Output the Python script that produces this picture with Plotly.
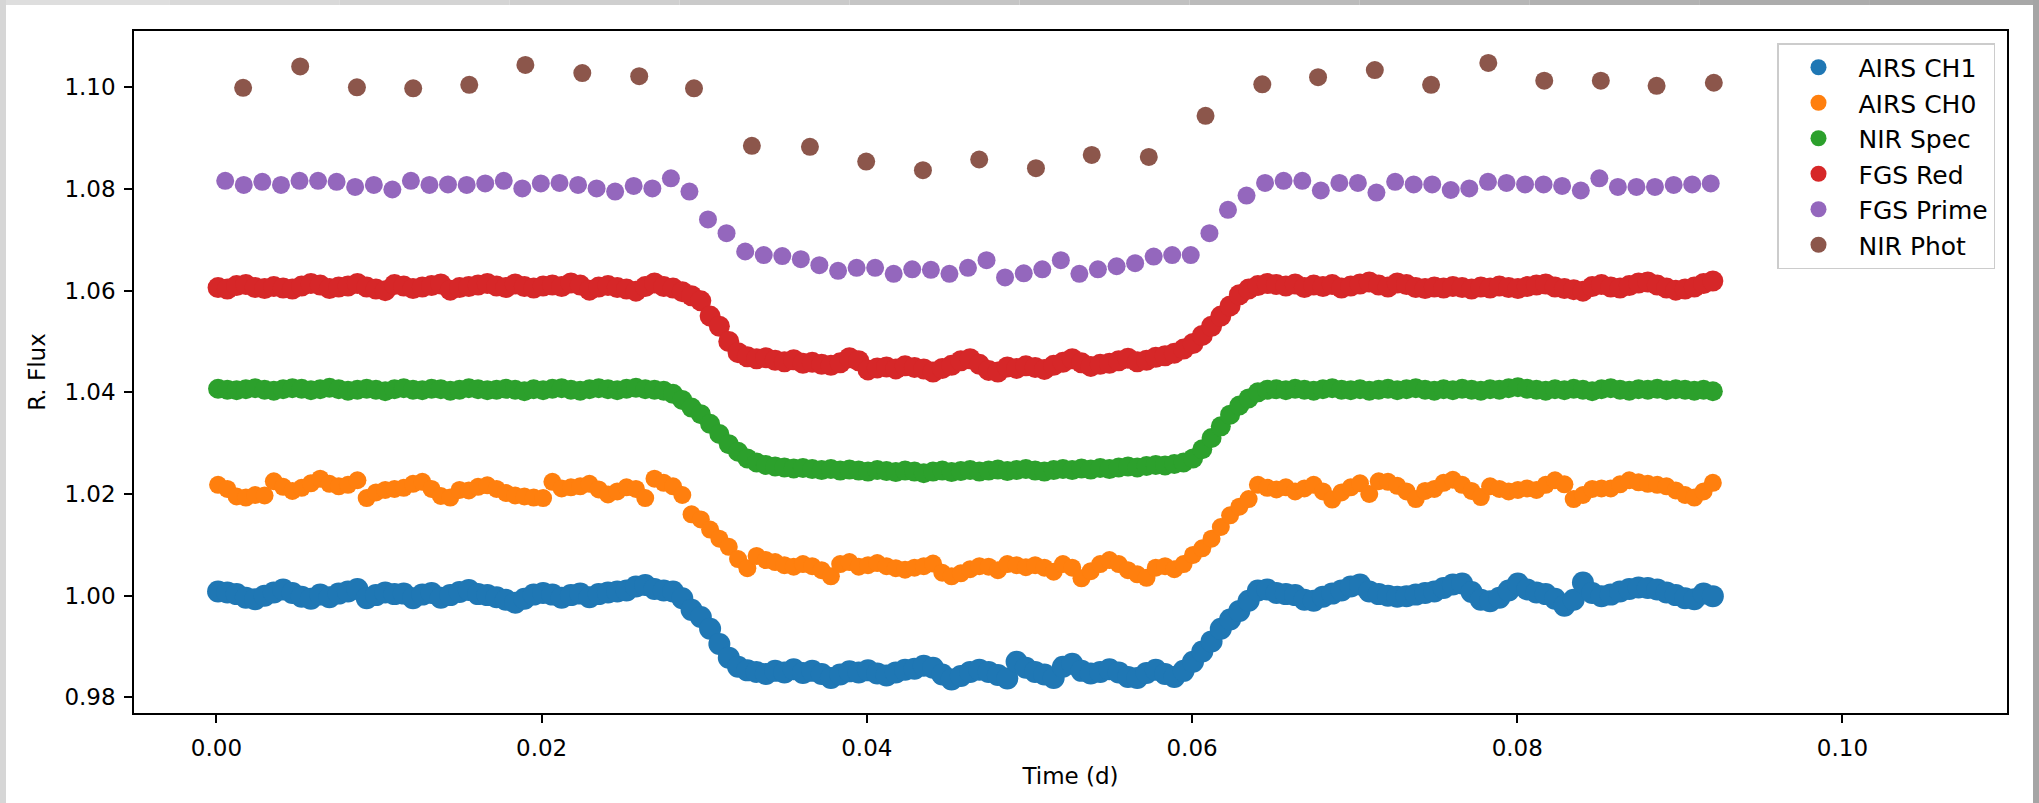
import plotly.graph_objects as go

# ---------------- data ----------------
series_names = ["AIRS CH1", "AIRS CH0", "NIR Spec", "FGS Red", "FGS Prime", "NIR Phot"]
series_colors = ["#1f77b4", "#ff7f0e", "#2ca02c", "#d62728", "#9467bd", "#8c564b"]

# time stamps (days) of the four dense light curves
t_dense = [
    0.00010, 0.00067, 0.00124, 0.00181, 0.00238, 0.00296, 0.00353, 0.00410, 0.00467, 0.00524,
    0.00581, 0.00638, 0.00695, 0.00752, 0.00809, 0.00867, 0.00924, 0.00981, 0.01038, 0.01095,
    0.01152, 0.01209, 0.01266, 0.01323, 0.01380, 0.01438, 0.01495, 0.01552, 0.01609, 0.01666,
    0.01723, 0.01780, 0.01837, 0.01894, 0.01951, 0.02009, 0.02066, 0.02123, 0.02180, 0.02237,
    0.02294, 0.02351, 0.02408, 0.02465, 0.02522, 0.02580, 0.02637, 0.02694, 0.02751, 0.02808,
    0.02865, 0.02922, 0.02979, 0.03036, 0.03093, 0.03151, 0.03208, 0.03265, 0.03322, 0.03379,
    0.03436, 0.03493, 0.03550, 0.03607, 0.03664, 0.03722, 0.03779, 0.03836, 0.03893, 0.03950,
    0.04007, 0.04064, 0.04121, 0.04178, 0.04235, 0.04293, 0.04350, 0.04407, 0.04464, 0.04521,
    0.04578, 0.04635, 0.04692, 0.04749, 0.04806, 0.04864, 0.04921, 0.04978, 0.05035, 0.05092,
    0.05149, 0.05206, 0.05263, 0.05320, 0.05377, 0.05435, 0.05492, 0.05549, 0.05606, 0.05663,
    0.05720, 0.05777, 0.05834, 0.05891, 0.05948, 0.06006, 0.06063, 0.06120, 0.06177, 0.06234,
    0.06291, 0.06348, 0.06405, 0.06462, 0.06519, 0.06577, 0.06634, 0.06691, 0.06748, 0.06805,
    0.06862, 0.06919, 0.06976, 0.07033, 0.07090, 0.07148, 0.07205, 0.07262, 0.07319, 0.07376,
    0.07433, 0.07490, 0.07547, 0.07604, 0.07661, 0.07719, 0.07776, 0.07833, 0.07890, 0.07947,
    0.08004, 0.08061, 0.08118, 0.08175, 0.08232, 0.08290, 0.08347, 0.08404, 0.08461, 0.08518,
    0.08575, 0.08632, 0.08689, 0.08746, 0.08803, 0.08861, 0.08918, 0.08975, 0.09032, 0.09089,
    0.09146, 0.09203,
]

airs_ch1 = [
    1.0008, 1.0006, 1.0003, 0.9996, 0.9993, 1.0000, 1.0006, 1.0012, 1.0005, 0.9998,
    0.9994, 1.0002, 0.9997, 1.0004, 1.0008, 1.0013, 0.9995, 1.0001, 1.0006, 1.0003,
    1.0004, 0.9995, 1.0002, 1.0005, 0.9996, 1.0001, 1.0007, 1.0011, 1.0003, 1.0001,
    0.9997, 0.9992, 0.9986, 0.9994, 1.0002, 1.0005, 1.0002, 0.9996, 1.0001, 1.0004,
    0.9997, 1.0003, 1.0006, 1.0008, 1.0010, 1.0018, 1.0021, 1.0013, 1.0010, 1.0008,
    0.9995, 0.9972, 0.9958, 0.9935, 0.9905, 0.9878, 0.9860, 0.9853, 0.9850, 0.9846,
    0.9852, 0.9849, 0.9855, 0.9848, 0.9852, 0.9846, 0.9838, 0.9845, 0.9851, 0.9849,
    0.9853, 0.9847, 0.9843, 0.9849, 0.9854, 0.9856, 0.9862, 0.9858, 0.9845, 0.9835,
    0.9842, 0.9850, 0.9854, 0.9850, 0.9844, 0.9837, 0.9870, 0.9858, 0.9850, 0.9845,
    0.9838, 0.9860, 0.9866, 0.9852, 0.9847, 0.9850, 0.9855, 0.9849, 0.9840, 0.9838,
    0.9848, 0.9854, 0.9846, 0.9840, 0.9852, 0.9870, 0.9890, 0.9910, 0.9935, 0.9953,
    0.9970, 0.9990, 1.0010, 1.0012, 1.0005, 1.0003, 1.0001, 0.9992, 0.9990, 0.9998,
    1.0004, 1.0010, 1.0018, 1.0022, 1.0008, 1.0003, 1.0000, 0.9998, 0.9999, 1.0002,
    1.0005, 1.0008, 1.0015, 1.0022, 1.0024, 1.0007, 0.9992, 0.9989, 0.9996, 1.0010,
    1.0024, 1.0012, 1.0006, 1.0003, 0.9994, 0.9980, 0.9992, 1.0026, 1.0005, 0.9999,
    1.0002, 1.0008, 1.0013, 1.0016, 1.0015, 1.0012, 1.0006, 1.0001, 0.9995, 0.9993,
    1.0004, 0.9999,
]

airs_ch0 = [
    1.0218, 1.0210, 1.0195, 1.0193, 1.0198, 1.0197, 1.0225, 1.0214, 1.0206, 1.0212,
    1.0221, 1.0230, 1.0220, 1.0215, 1.0218, 1.0227, 1.0192, 1.0203, 1.0208, 1.0210,
    1.0212, 1.0220, 1.0224, 1.0210, 1.0196, 1.0193, 1.0208, 1.0207, 1.0214, 1.0217,
    1.0210, 1.0202, 1.0197, 1.0195, 1.0193, 1.0192, 1.0224, 1.0211, 1.0213, 1.0215,
    1.0220, 1.0209, 1.0199, 1.0205, 1.0213, 1.0210, 1.0192, 1.0230, 1.0222, 1.0215,
    1.0198, 1.0160, 1.0150, 1.0130, 1.0112, 1.0096, 1.0072, 1.0054, 1.0078, 1.0070,
    1.0066, 1.0060, 1.0057, 1.0062, 1.0058, 1.0050, 1.0038, 1.0062, 1.0066, 1.0057,
    1.0060, 1.0064, 1.0058, 1.0054, 1.0051, 1.0055, 1.0058, 1.0063, 1.0045, 1.0038,
    1.0044, 1.0052, 1.0058, 1.0057, 1.0050, 1.0062, 1.0060, 1.0056, 1.0060, 1.0055,
    1.0047, 1.0062, 1.0055, 1.0034, 1.0048, 1.0062, 1.0070, 1.0062, 1.0050, 1.0042,
    1.0035, 1.0055, 1.0058, 1.0052, 1.0062, 1.0080, 1.0093, 1.0112, 1.0135, 1.0158,
    1.0175, 1.0190, 1.0218, 1.0212, 1.0209, 1.0213, 1.0205, 1.0211, 1.0218, 1.0205,
    1.0189, 1.0203, 1.0213, 1.0221, 1.0200, 1.0225, 1.0224, 1.0216, 1.0205, 1.0190,
    1.0206, 1.0210, 1.0222, 1.0228, 1.0218, 1.0206, 1.0194, 1.0215, 1.0210, 1.0205,
    1.0208, 1.0211, 1.0208, 1.0218, 1.0227, 1.0219, 1.0190, 1.0198, 1.0210, 1.0211,
    1.0211, 1.0219, 1.0227, 1.0223, 1.0220, 1.0218, 1.0215, 1.0207, 1.0198, 1.0193,
    1.0205, 1.0222,
]

nir_spec = [
    1.0407, 1.0405, 1.0404, 1.0406, 1.0408, 1.0405, 1.0403, 1.0406, 1.0408, 1.0407,
    1.0404, 1.0406, 1.0409, 1.0406, 1.0403, 1.0405, 1.0407, 1.0405, 1.0402, 1.0406,
    1.0408, 1.0405, 1.0404, 1.0407, 1.0406, 1.0403, 1.0405, 1.0408, 1.0406, 1.0404,
    1.0405, 1.0407, 1.0405, 1.0402, 1.0406, 1.0404, 1.0407, 1.0408, 1.0405, 1.0403,
    1.0406, 1.0408, 1.0406, 1.0404, 1.0407, 1.0409, 1.0406, 1.0405, 1.0403, 1.0397,
    1.0385, 1.0370, 1.0357, 1.0338, 1.0318, 1.0298, 1.0283, 1.0270, 1.0262, 1.0257,
    1.0254, 1.0252, 1.0250, 1.0251, 1.0249, 1.0247, 1.0249, 1.0246, 1.0248, 1.0246,
    1.0244, 1.0247, 1.0245, 1.0243, 1.0246, 1.0244, 1.0241, 1.0244, 1.0246, 1.0243,
    1.0245, 1.0247, 1.0244, 1.0246, 1.0248, 1.0245, 1.0247, 1.0249, 1.0246, 1.0244,
    1.0247, 1.0249, 1.0247, 1.0250, 1.0248, 1.0251, 1.0249, 1.0252, 1.0254, 1.0252,
    1.0255, 1.0257, 1.0256, 1.0259, 1.0262, 1.0270, 1.0288, 1.0310, 1.0333, 1.0356,
    1.0374, 1.0388, 1.0400, 1.0405, 1.0406, 1.0404, 1.0407, 1.0405, 1.0403, 1.0406,
    1.0408, 1.0405, 1.0404, 1.0406, 1.0403, 1.0405, 1.0407, 1.0404, 1.0406, 1.0408,
    1.0405, 1.0403, 1.0406, 1.0404, 1.0407, 1.0405, 1.0403, 1.0406, 1.0405, 1.0408,
    1.0410, 1.0407, 1.0405, 1.0403, 1.0406, 1.0404, 1.0407, 1.0405, 1.0402, 1.0406,
    1.0408, 1.0405, 1.0403, 1.0406, 1.0405, 1.0407, 1.0404, 1.0406, 1.0405, 1.0403,
    1.0405, 1.0402,
]

fgs_red = [
    1.0606, 1.0603, 1.0610, 1.0612, 1.0606, 1.0604, 1.0608, 1.0605, 1.0603, 1.0609,
    1.0614, 1.0611, 1.0604, 1.0607, 1.0609, 1.0614, 1.0607, 1.0603, 1.0600, 1.0612,
    1.0609, 1.0604, 1.0607, 1.0610, 1.0613, 1.0601, 1.0606, 1.0608, 1.0611, 1.0614,
    1.0609, 1.0606, 1.0613, 1.0608, 1.0605, 1.0609, 1.0611, 1.0608, 1.0615, 1.0611,
    1.0601, 1.0607, 1.0610, 1.0606, 1.0603, 1.0599, 1.0608, 1.0615, 1.0608, 1.0605,
    1.0598, 1.0590, 1.0580, 1.0550, 1.0530, 1.0500, 1.0478, 1.0470, 1.0466, 1.0468,
    1.0463, 1.0460, 1.0464, 1.0457, 1.0459, 1.0455, 1.0453, 1.0458, 1.0468, 1.0462,
    1.0444, 1.0448, 1.0450, 1.0446, 1.0452, 1.0449, 1.0446, 1.0440, 1.0447, 1.0453,
    1.0462, 1.0466, 1.0455, 1.0443, 1.0440, 1.0450, 1.0447, 1.0452, 1.0449, 1.0445,
    1.0453, 1.0459, 1.0466, 1.0458, 1.0451, 1.0455, 1.0457, 1.0462, 1.0467, 1.0460,
    1.0463, 1.0469, 1.0472, 1.0477, 1.0485, 1.0496, 1.0512, 1.0530, 1.0550, 1.0570,
    1.0592, 1.0603, 1.0610, 1.0614, 1.0612, 1.0609, 1.0613, 1.0606, 1.0611, 1.0608,
    1.0612, 1.0605, 1.0609, 1.0613, 1.0617, 1.0611, 1.0607, 1.0615, 1.0612, 1.0606,
    1.0604, 1.0607, 1.0605, 1.0608, 1.0606, 1.0603, 1.0607, 1.0605, 1.0609, 1.0606,
    1.0604, 1.0608, 1.0611, 1.0613, 1.0607, 1.0604, 1.0602, 1.0599, 1.0608, 1.0612,
    1.0607, 1.0605, 1.0610, 1.0615, 1.0617, 1.0611, 1.0605, 1.0601, 1.0603, 1.0607,
    1.0614, 1.0619,
]

t_prime = [
    0.00054, 0.00168, 0.00282, 0.00397, 0.00511, 0.00625, 0.00739, 0.00853, 0.00968, 0.01082,
    0.01196, 0.01310, 0.01424, 0.01539, 0.01653, 0.01767, 0.01881, 0.01995, 0.02110, 0.02224,
    0.02338, 0.02452, 0.02566, 0.02681, 0.02795, 0.02909, 0.03023, 0.03137, 0.03252, 0.03366,
    0.03480, 0.03594, 0.03708, 0.03823, 0.03937, 0.04051, 0.04165, 0.04279, 0.04394, 0.04508,
    0.04622, 0.04736, 0.04850, 0.04965, 0.05079, 0.05193, 0.05307, 0.05421, 0.05536, 0.05650,
    0.05764, 0.05878, 0.05992, 0.06107, 0.06221, 0.06335, 0.06449, 0.06563, 0.06678, 0.06792,
    0.06906, 0.07020, 0.07134, 0.07249, 0.07363, 0.07477, 0.07591, 0.07705, 0.07820, 0.07934,
    0.08048, 0.08162, 0.08276, 0.08391, 0.08505, 0.08619, 0.08733, 0.08847, 0.08962, 0.09076,
    0.09190,
]
fgs_prime = [
    1.0816, 1.0808, 1.0814, 1.0808, 1.0816, 1.0816, 1.0814, 1.0804, 1.0808, 1.0799,
    1.0816, 1.0808, 1.0809, 1.0808, 1.0811, 1.0816, 1.0801, 1.0811, 1.0812, 1.0808,
    1.0801, 1.0795, 1.0806, 1.0801, 1.0821, 1.0795, 1.0740, 1.0713, 1.0677, 1.0670,
    1.0668, 1.0662, 1.0650, 1.0639, 1.0645, 1.0645, 1.0633, 1.0642, 1.0641, 1.0633,
    1.0645, 1.0660, 1.0626, 1.0634, 1.0642, 1.0660, 1.0633, 1.0642, 1.0648, 1.0654,
    1.0667, 1.0670, 1.0670, 1.0713, 1.0759, 1.0787, 1.0812, 1.0816, 1.0816, 1.0797,
    1.0812, 1.0812, 1.0793, 1.0814, 1.0809, 1.0809, 1.0798, 1.0801, 1.0814, 1.0812,
    1.0809, 1.0809, 1.0806, 1.0797, 1.0821, 1.0804, 1.0804, 1.0804, 1.0808, 1.0809,
    1.0811,
]

t_phot = [
    0.00164, 0.00515, 0.00864, 0.01210, 0.01555, 0.01900, 0.02250, 0.02600, 0.02937,
    0.03293, 0.03650, 0.03996, 0.04345, 0.04691, 0.05040, 0.05383, 0.05734, 0.06083,
    0.06432, 0.06775, 0.07124, 0.07470, 0.07822, 0.08166, 0.08514, 0.08857, 0.09209,
]
nir_phot = [
    1.0999, 1.1041, 1.1000, 1.0998, 1.1005, 1.1044, 1.1028, 1.1022, 1.0998,
    1.0885, 1.0883, 1.0854, 1.0837, 1.0858, 1.0841, 1.0867, 1.0863, 1.0944,
    1.1006, 1.1020, 1.1034, 1.1005, 1.1048, 1.1013, 1.1013, 1.1003, 1.1009,
]

x_ticks = [0.00, 0.02, 0.04, 0.06, 0.08, 0.10]
y_ticks = [0.98, 1.00, 1.02, 1.04, 1.06, 1.08, 1.10]

# ---------------- figure ----------------
FONT = "DejaVu Sans"
xs = [t_dense, t_dense, t_dense, t_dense, t_prime, t_phot]
ys = [airs_ch1, airs_ch0, nir_spec, fgs_red, fgs_prime, nir_phot]
# apparent dot sizes (dense curves look like thick bands of overlapping dots)
marker_sizes = [22, 18, 20, 21, 18, 18]

fig = go.Figure()
for name, color, x, y, ms in zip(series_names, series_colors, xs, ys, marker_sizes):
    fig.add_trace(go.Scatter(
        x=x, y=y, mode="markers", name=name,
        marker=dict(color=color, size=ms, line=dict(width=0)),
        legendgroup=name,
    ))

W, H = 2039, 803
ML, MR, MT, MB = 134, 32, 31, 90
pw, ph = W - ML - MR, H - MT - MB


def px2paper_x(px):
    return (px - ML) / pw


def px2paper_y(py):
    return (H - MB - py) / ph


shapes = []
# screenshot frame: top strip (gradient), left strip, right strip
nseg = 12
for i in range(nseg):
    c = int(222 - (222 - 168) * i / (nseg - 1))
    shapes.append(dict(type="rect", xref="paper", yref="paper",
                       x0=px2paper_x(W * i / nseg), x1=px2paper_x(W * (i + 1) / nseg),
                       y0=px2paper_y(5), y1=px2paper_y(0),
                       fillcolor=f"rgb({c},{c},{c})", line=dict(width=0), layer="below"))
shapes.append(dict(type="rect", xref="paper", yref="paper",
                   x0=px2paper_x(0), x1=px2paper_x(6), y0=px2paper_y(H), y1=px2paper_y(0),
                   fillcolor="rgb(214,214,214)", line=dict(width=0), layer="below"))
shapes.append(dict(type="rect", xref="paper", yref="paper",
                   x0=px2paper_x(2033), x1=px2paper_x(W), y0=px2paper_y(H), y1=px2paper_y(0),
                   fillcolor="rgb(165,165,165)", line=dict(width=0), layer="below"))

axis_common = dict(
    showline=True, linecolor="black", linewidth=1.5, mirror=True,
    ticks="outside", ticklen=8, tickwidth=1.5, tickcolor="black",
    showgrid=False, zeroline=False,
    tickfont=dict(family=FONT, size=23, color="black"),
)

fig.update_layout(
    width=W, height=H,
    margin=dict(l=ML, r=MR, t=MT, b=MB, pad=0),
    paper_bgcolor="white", plot_bgcolor="white",
    font=dict(family=FONT, size=23, color="black"),
    showlegend=True,
    legend=dict(
        x=px2paper_x(1995), xanchor="right", y=px2paper_y(43), yanchor="top",
        bgcolor="rgba(255,255,255,0.8)", bordercolor="#cccccc", borderwidth=1.5,
        font=dict(family=FONT, size=25, color="black"),
        tracegroupgap=12, traceorder="normal", itemsizing="trace", itemwidth=70,
    ),
    xaxis=dict(range=[-0.00507, 0.11012], tickvals=x_ticks,
               ticktext=[f"{v:.2f}" for v in x_ticks], ticklabelstandoff=6,
               title=dict(text="Time (d)", font=dict(family=FONT, size=23), standoff=8),
               **axis_common),
    yaxis=dict(range=[0.97691, 1.11108], tickvals=y_ticks,
               ticktext=[f"{v:.2f}" for v in y_ticks], ticklabelstandoff=4,
               title=dict(text="R. Flux", font=dict(family=FONT, size=23), standoff=12),
               **axis_common),
    shapes=shapes,
)

fig.write_html("out.html", config={"displayModeBar": False},
               post_script="document.body.style.margin='0';document.body.style.overflow='hidden';")
